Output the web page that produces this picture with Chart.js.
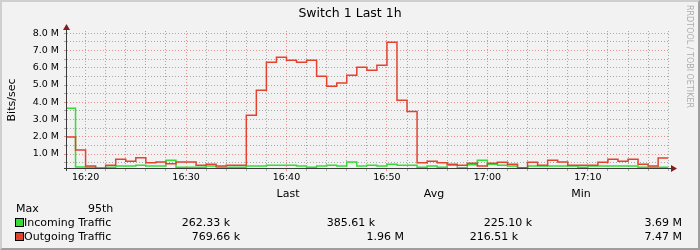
<!DOCTYPE html>
<html>
<head>
<meta charset="utf-8">
<script src="https://cdn.jsdelivr.net/npm/chart.js@4.4.1/dist/chart.umd.min.js"></script>
<style>
  html, body { margin: 0; padding: 0; }
  body { width: 700px; height: 250px; background: #f2f2f2; position: relative; overflow: hidden;
         font-family: 'DejaVu Sans', sans-serif; color: #000; }
  #chart { position: absolute; left: 0; top: 0; }
  #frame { position: absolute; left: 0; top: 0; width: 700px; height: 250px; box-sizing: border-box;
           border-style: solid; border-width: 2px; border-color: #cfcfcf #9e9e9e #9e9e9e #cfcfcf; pointer-events: none; }
  .t { position: absolute; white-space: nowrap; line-height: 14px; height: 14px; font-size: 11px; }
  .box { position: absolute; width: 7px; height: 7px; border: 1px solid #000; }
  #ylab { position: absolute; left: 11px; top: 100px; font-size: 11px; white-space: nowrap;
          transform: translate(-50%, -50%) rotate(-90deg); }
  #mark { position: absolute; left: 685px; top: 5px; font-size: 8px; writing-mode: vertical-rl;
          color: rgba(0, 0, 0, 0.3); white-space: nowrap; }
</style>
</head>
<body>
<canvas id="chart" width="700" height="250"></canvas>
<div id="ylab">Bits/sec</div>
<div id="mark">RRDTOOL / TOBI OETIKER</div>
<div id="texts"></div>
<div id="frame"></div>
<script>
// one value per minute, Mbit/s
const times = ['16:18', '16:19', '16:20', '16:21', '16:22', '16:23', '16:24', '16:25', '16:26', '16:27',
  '16:28', '16:29', '16:30', '16:31', '16:32', '16:33', '16:34', '16:35', '16:36', '16:37',
  '16:38', '16:39', '16:40', '16:41', '16:42', '16:43', '16:44', '16:45', '16:46', '16:47',
  '16:48', '16:49', '16:50', '16:51', '16:52', '16:53', '16:54', '16:55', '16:56', '16:57',
  '16:58', '16:59', '17:00', '17:01', '17:02', '17:03', '17:04', '17:05', '17:06', '17:07',
  '17:08', '17:09', '17:10', '17:11', '17:12', '17:13', '17:14', '17:15', '17:16', '17:17'];

const incoming = [3.66, 0.25, 0.24, 0.19, 0.24, 0.30, 0.30, 0.35, 0.30, 0.30,
  0.64, 0.24, 0.24, 0.24, 0.30, 0.24, 0.24, 0.24, 0.30, 0.30,
  0.35, 0.35, 0.35, 0.30, 0.24, 0.30, 0.35, 0.30, 0.54, 0.30,
  0.35, 0.30, 0.41, 0.35, 0.35, 0.24, 0.30, 0.24, 0.35, 0.21,
  0.38, 0.64, 0.41, 0.35, 0.30, 0.21, 0.30, 0.30, 0.30, 0.30,
  0.30, 0.24, 0.30, 0.30, 0.30, 0.30, 0.30, 0.24, 0.24, 0.24];

const outgoing = [1.99, 1.23, 0.30, 0.18, 0.35, 0.70, 0.58, 0.78, 0.49, 0.54,
  0.43, 0.54, 0.54, 0.35, 0.41, 0.30, 0.35, 0.35, 3.25, 4.70,
  6.32, 6.61, 6.44, 6.32, 6.44, 5.51, 4.93, 5.11, 5.57, 6.03,
  5.86, 6.15, 7.48, 4.12, 3.47, 0.49, 0.58, 0.49, 0.41, 0.35,
  0.47, 0.30, 0.47, 0.53, 0.41, 0.20, 0.53, 0.35, 0.64, 0.54,
  0.35, 0.35, 0.35, 0.53, 0.70, 0.58, 0.70, 0.41, 0.30, 0.77];

const xLabels = ['16:20', '16:30', '16:40', '16:50', '17:00', '17:10'];
const yLabels = ['1.0 M', '2.0 M', '3.0 M', '4.0 M', '5.0 M', '6.0 M', '7.0 M', '8.0 M'];

const statHeaders = ['Last', 'Avg', 'Min'];
const seriesNames = ['Incoming Traffic', 'Outgoing Traffic'];
const incomingStats = ['262.33 k', '385.61 k', '225.10 k', '3.69 M'];
const outgoingStats = ['769.66 k', '1.96 M', '216.51 k', '7.47 M'];

const GREEN = '#33dd33';
const RED = '#e2432f';
const GRID = 'rgba(143,143,143,0.75)';
const MGRID = 'rgba(222,79,79,0.6)';

Chart.defaults.font.family = "'DejaVu Sans', sans-serif";

// minutes after 16:00
const toMin = (t) => {
  const [h, m] = t.split(':').map(Number);
  return (h - 16) * 60 + m;
};

// each value holds from its minute until the next one
const toPoints = (arr) => {
  const pts = times.map((t, i) => ({ x: toMin(t), y: arr[i] * 1e6 }));
  pts.push({ x: toMin(times[times.length - 1]) + 1, y: arr[arr.length - 1] * 1e6 });
  return pts;
};

const xMajor = xLabels.map(toMin);
const xTicks = [];
for (let m = 20; m <= 78; m += 2) xTicks.push(m);
const yTicks = [];
for (let v = 1; v <= 16; v++) yTicks.push(v * 0.5e6);

const axesPlugin = {
  id: 'rrdAxes',
  afterDatasetsDraw(chart) {
    const { ctx, chartArea: a } = chart;
    ctx.save();
    ctx.strokeStyle = '#3a3a3a';
    ctx.lineWidth = 1;
    ctx.beginPath();
    ctx.moveTo(a.left - 3, a.bottom + 0.5);
    ctx.lineTo(a.right + 3, a.bottom + 0.5);
    ctx.moveTo(a.left - 0.5, a.bottom + 3);
    ctx.lineTo(a.left - 0.5, a.top - 2);
    ctx.stroke();
    ctx.fillStyle = '#801f1f';
    ctx.beginPath();
    ctx.moveTo(a.right + 2, a.bottom - 3);
    ctx.lineTo(a.right + 8, a.bottom + 0.5);
    ctx.lineTo(a.right + 2, a.bottom + 4);
    ctx.closePath();
    ctx.fill();
    ctx.beginPath();
    ctx.moveTo(a.left - 4, a.top - 1);
    ctx.lineTo(a.left - 0.5, a.top - 7);
    ctx.lineTo(a.left + 3, a.top - 1);
    ctx.closePath();
    ctx.fill();
    ctx.restore();
  }
};

new Chart(document.getElementById('chart'), {
  type: 'line',
  data: {
    datasets: [
      { label: seriesNames[1], data: toPoints(outgoing), borderColor: RED, borderWidth: 1.5, pointRadius: 0, stepped: 'before', fill: false },
      { label: seriesNames[0], data: toPoints(incoming), borderColor: GREEN, borderWidth: 1.5, pointRadius: 0, stepped: 'before', fill: false }
    ]
  },
  options: {
    responsive: false,
    animation: false,
    devicePixelRatio: 1,
    layout: { padding: { left: 0, top: 31, right: 31, bottom: 62 } },
    plugins: { legend: { display: false }, tooltip: { enabled: false } },
    scales: {
      x: {
        type: 'linear',
        min: 18.15,
        max: 78.08,
        afterBuildTicks: (s) => { s.ticks = xTicks.map((v) => ({ value: v })); },
        afterFit: (s) => { s.height = 20; },
        ticks: {
          autoSkip: false, maxRotation: 0, padding: 1, color: '#000', font: { size: 9.5 },
          callback: (v) => { const i = xMajor.indexOf(v); return i >= 0 ? xLabels[i] : ''; }
        },
        grid: { color: (c) => (c.tick && xMajor.includes(c.tick.value) ? MGRID : GRID), tickLength: 3, lineWidth: 1 },
        border: { display: false, dash: [1, 2] }
      },
      y: {
        min: 0.19e6,
        max: 8.13e6,
        afterBuildTicks: (s) => { s.ticks = yTicks.map((v) => ({ value: v })); },
        afterFit: (s) => { s.width = 67; },
        ticks: {
          autoSkip: false, padding: 5, color: '#000', font: { size: 9.5 },
          callback: (v) => { const i = Math.round(v / 1e6) - 1; return v % 1e6 === 0 ? yLabels[i] : ''; }
        },
        grid: { color: (c) => (c.tick && c.tick.value % 1e6 === 0 ? MGRID : GRID), tickLength: 3, lineWidth: 1 },
        border: { display: false, dash: [1, 2] }
      }
    }
  },
  plugins: [axesPlugin]
});

// legend block under the graph
const texts = document.getElementById('texts');
function put(text, x, y, align, size) {
  const d = document.createElement('div');
  d.className = 't';
  d.textContent = text;
  d.style.top = (y - 7) + 'px';
  if (size) d.style.fontSize = size + 'px';
  if (align === 'right') d.style.right = (700 - x) + 'px';
  else if (align === 'center') { d.style.left = x + 'px'; d.style.transform = 'translateX(-50%)'; }
  else d.style.left = x + 'px';
  texts.appendChild(d);
}
function box(color, x, y) {
  const b = document.createElement('div');
  b.className = 'box';
  b.style.left = x + 'px';
  b.style.top = y + 'px';
  b.style.background = color;
  texts.appendChild(b);
}

put('Switch 1 Last 1h', 350, 13, 'center', 12.5);
const headX = [288, 434, 581];
statHeaders.forEach((h, i) => put(h, headX[i], 194, 'center'));
put('Max', 16, 208.5, 'left');
put('95th', 88, 208.5, 'left');

box(GREEN, 15, 218);
put(seriesNames[0], 24, 222.5, 'left');
const inRight = [230, 375, 532, 682];
incomingStats.forEach((s, i) => put(s, inRight[i], 222.5, 'right'));

box(RED, 15, 232);
put(seriesNames[1], 24, 236.5, 'left');
const outRight = [240, 404, 518, 682];
outgoingStats.forEach((s, i) => put(s, outRight[i], 236.5, 'right'));
</script>
</body>
</html>
